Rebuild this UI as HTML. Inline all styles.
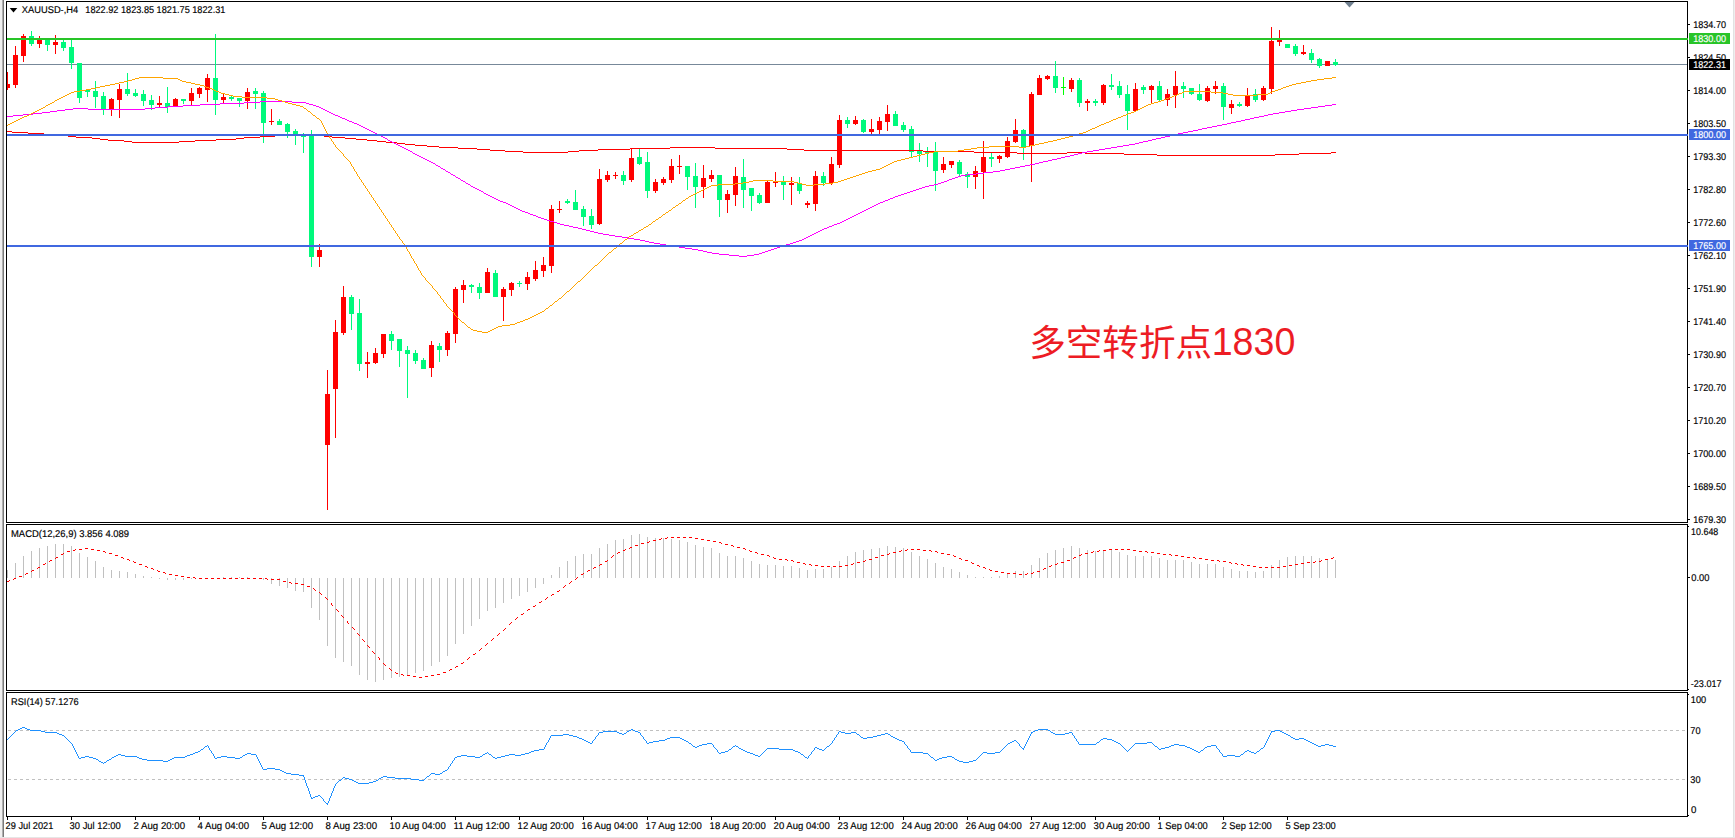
<!DOCTYPE html><html><head><meta charset="utf-8"><title>XAUUSD H4</title>
<style>html,body{margin:0;padding:0;background:#fff;overflow:hidden}svg{display:block}text{font-family:"Liberation Sans","Noto Sans CJK SC",sans-serif;fill:#000}.t{font-size:9.8px;text-rendering:geometricPrecision;stroke:#000;stroke-width:0.16px}.w{fill:#fff;stroke:#fff}.note{font-family:"Liberation Sans","Noto Sans CJK SC",sans-serif;font-size:35.5px;font-weight:400;fill:#ed1c24}</style></head><body>
<svg width="1735" height="838" viewBox="0 0 1735 838">
<rect width="1735" height="838" fill="#fff"/>
<g shape-rendering="crispEdges">
<rect x="0" y="0" width="2" height="838" fill="#f0f0f0"/>
<rect x="2" y="0" width="1" height="837" fill="#b0b0b0"/>
<rect x="3" y="0" width="1" height="837" fill="#7a7a7a"/>
<rect x="1733" y="0" width="1" height="838" fill="#e2e2e2"/>
<rect x="1734" y="0" width="1" height="838" fill="#eeeeee"/>
<rect x="0" y="837" width="1735" height="1" fill="#e6e6e6"/>
<rect x="6" y="1" width="1" height="522" fill="#000"/>
<rect x="1687" y="1" width="1" height="522" fill="#000"/>
<rect x="6" y="1" width="1682" height="1" fill="#000"/>
<rect x="6" y="522" width="1682" height="1" fill="#000"/>
<rect x="6" y="524" width="1" height="167" fill="#000"/>
<rect x="1687" y="524" width="1" height="167" fill="#000"/>
<rect x="6" y="524" width="1682" height="1" fill="#000"/>
<rect x="6" y="690" width="1682" height="1" fill="#000"/>
<rect x="6" y="692" width="1" height="125" fill="#000"/>
<rect x="1687" y="692" width="1" height="125" fill="#000"/>
<rect x="6" y="692" width="1682" height="1" fill="#000"/>
<rect x="6" y="816" width="1682" height="1" fill="#000"/>
</g>
<g shape-rendering="crispEdges">
<rect x="7" y="64" width="1680" height="1" fill="#778899"/>
<rect x="7" y="72" width="1" height="18" fill="#ff0000"/>
<rect x="7" y="84" width="3" height="4" fill="#ff0000"/>
<rect x="15" y="46" width="1" height="42" fill="#ff0000"/>
<rect x="13" y="55" width="5" height="30" fill="#ff0000"/>
<rect x="23" y="34" width="1" height="28" fill="#ff0000"/>
<rect x="21" y="36" width="5" height="20" fill="#ff0000"/>
<rect x="31" y="31" width="1" height="15" fill="#00f97c"/>
<rect x="29" y="36" width="5" height="8" fill="#00f97c"/>
<rect x="39" y="36" width="1" height="12" fill="#ff0000"/>
<rect x="37" y="40" width="5" height="4" fill="#ff0000"/>
<rect x="47" y="38" width="1" height="13" fill="#00f97c"/>
<rect x="45" y="40" width="5" height="5" fill="#00f97c"/>
<rect x="55" y="35" width="1" height="19" fill="#ff0000"/>
<rect x="53" y="42" width="5" height="3" fill="#ff0000"/>
<rect x="63" y="40" width="1" height="11" fill="#00f97c"/>
<rect x="61" y="42" width="5" height="6" fill="#00f97c"/>
<rect x="71" y="40" width="1" height="29" fill="#00f97c"/>
<rect x="69" y="47" width="5" height="16" fill="#00f97c"/>
<rect x="79" y="63" width="1" height="40" fill="#00f97c"/>
<rect x="77" y="63" width="5" height="35" fill="#00f97c"/>
<rect x="87" y="90" width="1" height="7" fill="#00f97c"/>
<rect x="85" y="90" width="5" height="2" fill="#00f97c"/>
<rect x="95" y="81" width="1" height="27" fill="#00f97c"/>
<rect x="93" y="91" width="5" height="6" fill="#00f97c"/>
<rect x="103" y="92" width="1" height="23" fill="#00f97c"/>
<rect x="101" y="96" width="5" height="13" fill="#00f97c"/>
<rect x="111" y="98" width="1" height="18" fill="#ff0000"/>
<rect x="109" y="99" width="5" height="10" fill="#ff0000"/>
<rect x="119" y="84" width="1" height="34" fill="#ff0000"/>
<rect x="117" y="89" width="5" height="11" fill="#ff0000"/>
<rect x="127" y="73" width="1" height="23" fill="#00f97c"/>
<rect x="125" y="89" width="5" height="5" fill="#00f97c"/>
<rect x="135" y="89" width="1" height="8" fill="#00f97c"/>
<rect x="133" y="93" width="5" height="3" fill="#00f97c"/>
<rect x="143" y="90" width="1" height="16" fill="#00f97c"/>
<rect x="141" y="94" width="5" height="7" fill="#00f97c"/>
<rect x="151" y="95" width="1" height="15" fill="#00f97c"/>
<rect x="149" y="100" width="5" height="5" fill="#00f97c"/>
<rect x="159" y="96" width="1" height="12" fill="#ff0000"/>
<rect x="157" y="103" width="5" height="2" fill="#ff0000"/>
<rect x="167" y="87" width="1" height="26" fill="#00f97c"/>
<rect x="165" y="103" width="5" height="4" fill="#00f97c"/>
<rect x="175" y="98" width="1" height="9" fill="#ff0000"/>
<rect x="173" y="99" width="5" height="7" fill="#ff0000"/>
<rect x="183" y="99" width="1" height="5" fill="#00f97c"/>
<rect x="181" y="99" width="5" height="2" fill="#00f97c"/>
<rect x="191" y="88" width="1" height="18" fill="#ff0000"/>
<rect x="189" y="93" width="5" height="8" fill="#ff0000"/>
<rect x="199" y="87" width="1" height="11" fill="#ff0000"/>
<rect x="197" y="88" width="5" height="6" fill="#ff0000"/>
<rect x="207" y="74" width="1" height="28" fill="#ff0000"/>
<rect x="205" y="78" width="5" height="12" fill="#ff0000"/>
<rect x="215" y="34" width="1" height="81" fill="#00f97c"/>
<rect x="213" y="78" width="5" height="22" fill="#00f97c"/>
<rect x="223" y="94" width="1" height="9" fill="#ff0000"/>
<rect x="221" y="97" width="5" height="3" fill="#ff0000"/>
<rect x="231" y="96" width="1" height="5" fill="#00f97c"/>
<rect x="229" y="97" width="5" height="2" fill="#00f97c"/>
<rect x="239" y="98" width="1" height="9" fill="#00f97c"/>
<rect x="237" y="98" width="5" height="3" fill="#00f97c"/>
<rect x="247" y="88" width="1" height="21" fill="#ff0000"/>
<rect x="245" y="92" width="5" height="9" fill="#ff0000"/>
<rect x="255" y="88" width="1" height="21" fill="#00f97c"/>
<rect x="253" y="91" width="5" height="3" fill="#00f97c"/>
<rect x="263" y="91" width="1" height="52" fill="#00f97c"/>
<rect x="261" y="93" width="5" height="30" fill="#00f97c"/>
<rect x="271" y="109" width="1" height="16" fill="#ff0000"/>
<rect x="269" y="121" width="5" height="1" fill="#ff0000"/>
<rect x="279" y="119" width="1" height="6" fill="#00f97c"/>
<rect x="277" y="121" width="5" height="4" fill="#00f97c"/>
<rect x="287" y="123" width="1" height="15" fill="#00f97c"/>
<rect x="285" y="124" width="5" height="8" fill="#00f97c"/>
<rect x="295" y="129" width="1" height="16" fill="#00f97c"/>
<rect x="293" y="131" width="5" height="4" fill="#00f97c"/>
<rect x="303" y="133" width="1" height="20" fill="#00f97c"/>
<rect x="301" y="135" width="5" height="2" fill="#00f97c"/>
<rect x="311" y="130" width="1" height="137" fill="#00f97c"/>
<rect x="309" y="135" width="5" height="122" fill="#00f97c"/>
<rect x="319" y="244" width="1" height="23" fill="#ff0000"/>
<rect x="317" y="250" width="5" height="7" fill="#ff0000"/>
<rect x="327" y="370" width="1" height="140" fill="#ff0000"/>
<rect x="325" y="394" width="5" height="51" fill="#ff0000"/>
<rect x="335" y="320" width="1" height="118" fill="#ff0000"/>
<rect x="333" y="332" width="5" height="57" fill="#ff0000"/>
<rect x="343" y="286" width="1" height="49" fill="#ff0000"/>
<rect x="341" y="297" width="5" height="36" fill="#ff0000"/>
<rect x="351" y="295" width="1" height="35" fill="#00f97c"/>
<rect x="349" y="297" width="5" height="17" fill="#00f97c"/>
<rect x="359" y="299" width="1" height="72" fill="#00f97c"/>
<rect x="357" y="313" width="5" height="51" fill="#00f97c"/>
<rect x="367" y="352" width="1" height="26" fill="#ff0000"/>
<rect x="365" y="362" width="5" height="2" fill="#ff0000"/>
<rect x="375" y="348" width="1" height="16" fill="#ff0000"/>
<rect x="373" y="353" width="5" height="10" fill="#ff0000"/>
<rect x="383" y="334" width="1" height="24" fill="#ff0000"/>
<rect x="381" y="334" width="5" height="20" fill="#ff0000"/>
<rect x="391" y="331" width="1" height="19" fill="#00f97c"/>
<rect x="389" y="334" width="5" height="7" fill="#00f97c"/>
<rect x="399" y="339" width="1" height="28" fill="#00f97c"/>
<rect x="397" y="339" width="5" height="12" fill="#00f97c"/>
<rect x="407" y="346" width="1" height="52" fill="#00f97c"/>
<rect x="405" y="350" width="5" height="4" fill="#00f97c"/>
<rect x="415" y="350" width="1" height="14" fill="#00f97c"/>
<rect x="413" y="353" width="5" height="8" fill="#00f97c"/>
<rect x="423" y="358" width="1" height="11" fill="#00f97c"/>
<rect x="421" y="360" width="5" height="9" fill="#00f97c"/>
<rect x="431" y="341" width="1" height="36" fill="#ff0000"/>
<rect x="429" y="345" width="5" height="23" fill="#ff0000"/>
<rect x="439" y="343" width="1" height="19" fill="#00f97c"/>
<rect x="437" y="346" width="5" height="4" fill="#00f97c"/>
<rect x="447" y="331" width="1" height="25" fill="#ff0000"/>
<rect x="445" y="333" width="5" height="17" fill="#ff0000"/>
<rect x="455" y="287" width="1" height="56" fill="#ff0000"/>
<rect x="453" y="289" width="5" height="45" fill="#ff0000"/>
<rect x="463" y="280" width="1" height="23" fill="#ff0000"/>
<rect x="461" y="285" width="5" height="5" fill="#ff0000"/>
<rect x="471" y="284" width="1" height="9" fill="#00f97c"/>
<rect x="469" y="285" width="5" height="2" fill="#00f97c"/>
<rect x="479" y="283" width="1" height="16" fill="#00f97c"/>
<rect x="477" y="287" width="5" height="6" fill="#00f97c"/>
<rect x="487" y="268" width="1" height="25" fill="#ff0000"/>
<rect x="485" y="272" width="5" height="21" fill="#ff0000"/>
<rect x="495" y="270" width="1" height="27" fill="#00f97c"/>
<rect x="493" y="273" width="5" height="24" fill="#00f97c"/>
<rect x="503" y="287" width="1" height="34" fill="#ff0000"/>
<rect x="501" y="289" width="5" height="8" fill="#ff0000"/>
<rect x="511" y="282" width="1" height="14" fill="#ff0000"/>
<rect x="509" y="283" width="5" height="7" fill="#ff0000"/>
<rect x="519" y="281" width="1" height="6" fill="#00f97c"/>
<rect x="517" y="283" width="5" height="1" fill="#00f97c"/>
<rect x="527" y="272" width="1" height="18" fill="#ff0000"/>
<rect x="525" y="277" width="5" height="7" fill="#ff0000"/>
<rect x="535" y="261" width="1" height="20" fill="#ff0000"/>
<rect x="533" y="270" width="5" height="9" fill="#ff0000"/>
<rect x="543" y="257" width="1" height="20" fill="#ff0000"/>
<rect x="541" y="265" width="5" height="6" fill="#ff0000"/>
<rect x="551" y="205" width="1" height="68" fill="#ff0000"/>
<rect x="549" y="209" width="5" height="57" fill="#ff0000"/>
<rect x="559" y="201" width="1" height="12" fill="#ff0000"/>
<rect x="557" y="209" width="5" height="1" fill="#ff0000"/>
<rect x="567" y="199" width="1" height="5" fill="#00f97c"/>
<rect x="565" y="201" width="5" height="2" fill="#00f97c"/>
<rect x="575" y="190" width="1" height="20" fill="#00f97c"/>
<rect x="573" y="202" width="5" height="8" fill="#00f97c"/>
<rect x="583" y="206" width="1" height="20" fill="#00f97c"/>
<rect x="581" y="209" width="5" height="8" fill="#00f97c"/>
<rect x="591" y="209" width="1" height="20" fill="#00f97c"/>
<rect x="589" y="216" width="5" height="9" fill="#00f97c"/>
<rect x="599" y="169" width="1" height="56" fill="#ff0000"/>
<rect x="597" y="179" width="5" height="45" fill="#ff0000"/>
<rect x="607" y="171" width="1" height="11" fill="#ff0000"/>
<rect x="605" y="175" width="5" height="5" fill="#ff0000"/>
<rect x="615" y="172" width="1" height="7" fill="#ff0000"/>
<rect x="613" y="175" width="5" height="1" fill="#ff0000"/>
<rect x="623" y="171" width="1" height="14" fill="#00f97c"/>
<rect x="621" y="175" width="5" height="6" fill="#00f97c"/>
<rect x="631" y="149" width="1" height="33" fill="#ff0000"/>
<rect x="629" y="158" width="5" height="22" fill="#ff0000"/>
<rect x="639" y="149" width="1" height="16" fill="#00f97c"/>
<rect x="637" y="157" width="5" height="7" fill="#00f97c"/>
<rect x="647" y="152" width="1" height="46" fill="#00f97c"/>
<rect x="645" y="162" width="5" height="29" fill="#00f97c"/>
<rect x="655" y="179" width="1" height="14" fill="#ff0000"/>
<rect x="653" y="182" width="5" height="9" fill="#ff0000"/>
<rect x="663" y="177" width="1" height="8" fill="#ff0000"/>
<rect x="661" y="179" width="5" height="4" fill="#ff0000"/>
<rect x="671" y="159" width="1" height="24" fill="#ff0000"/>
<rect x="669" y="166" width="5" height="14" fill="#ff0000"/>
<rect x="679" y="155" width="1" height="19" fill="#ff0000"/>
<rect x="677" y="166" width="5" height="1" fill="#ff0000"/>
<rect x="687" y="166" width="1" height="24" fill="#00f97c"/>
<rect x="685" y="166" width="5" height="11" fill="#00f97c"/>
<rect x="695" y="163" width="1" height="45" fill="#00f97c"/>
<rect x="693" y="176" width="5" height="11" fill="#00f97c"/>
<rect x="703" y="165" width="1" height="33" fill="#ff0000"/>
<rect x="701" y="178" width="5" height="9" fill="#ff0000"/>
<rect x="711" y="170" width="1" height="12" fill="#ff0000"/>
<rect x="709" y="175" width="5" height="4" fill="#ff0000"/>
<rect x="719" y="175" width="1" height="42" fill="#00f97c"/>
<rect x="717" y="175" width="5" height="25" fill="#00f97c"/>
<rect x="727" y="190" width="1" height="23" fill="#ff0000"/>
<rect x="725" y="194" width="5" height="6" fill="#ff0000"/>
<rect x="735" y="167" width="1" height="39" fill="#ff0000"/>
<rect x="733" y="176" width="5" height="19" fill="#ff0000"/>
<rect x="743" y="159" width="1" height="49" fill="#00f97c"/>
<rect x="741" y="177" width="5" height="13" fill="#00f97c"/>
<rect x="751" y="188" width="1" height="23" fill="#00f97c"/>
<rect x="749" y="188" width="5" height="8" fill="#00f97c"/>
<rect x="759" y="193" width="1" height="11" fill="#00f97c"/>
<rect x="757" y="195" width="5" height="8" fill="#00f97c"/>
<rect x="767" y="181" width="1" height="22" fill="#ff0000"/>
<rect x="765" y="182" width="5" height="21" fill="#ff0000"/>
<rect x="775" y="172" width="1" height="15" fill="#ff0000"/>
<rect x="773" y="182" width="5" height="1" fill="#ff0000"/>
<rect x="783" y="176" width="1" height="24" fill="#00f97c"/>
<rect x="781" y="182" width="5" height="3" fill="#00f97c"/>
<rect x="791" y="177" width="1" height="28" fill="#ff0000"/>
<rect x="789" y="183" width="5" height="2" fill="#ff0000"/>
<rect x="799" y="177" width="1" height="17" fill="#00f97c"/>
<rect x="797" y="183" width="5" height="8" fill="#00f97c"/>
<rect x="807" y="201" width="1" height="7" fill="#ff0000"/>
<rect x="805" y="203" width="5" height="2" fill="#ff0000"/>
<rect x="815" y="171" width="1" height="40" fill="#ff0000"/>
<rect x="813" y="176" width="5" height="28" fill="#ff0000"/>
<rect x="823" y="172" width="1" height="14" fill="#00f97c"/>
<rect x="821" y="176" width="5" height="7" fill="#00f97c"/>
<rect x="831" y="157" width="1" height="28" fill="#ff0000"/>
<rect x="829" y="164" width="5" height="19" fill="#ff0000"/>
<rect x="839" y="115" width="1" height="53" fill="#ff0000"/>
<rect x="837" y="120" width="5" height="45" fill="#ff0000"/>
<rect x="847" y="117" width="1" height="11" fill="#00f97c"/>
<rect x="845" y="120" width="5" height="4" fill="#00f97c"/>
<rect x="855" y="116" width="1" height="9" fill="#ff0000"/>
<rect x="853" y="120" width="5" height="4" fill="#ff0000"/>
<rect x="863" y="119" width="1" height="14" fill="#00f97c"/>
<rect x="861" y="120" width="5" height="12" fill="#00f97c"/>
<rect x="871" y="119" width="1" height="15" fill="#ff0000"/>
<rect x="869" y="129" width="5" height="3" fill="#ff0000"/>
<rect x="879" y="117" width="1" height="17" fill="#ff0000"/>
<rect x="877" y="121" width="5" height="9" fill="#ff0000"/>
<rect x="887" y="105" width="1" height="26" fill="#ff0000"/>
<rect x="885" y="114" width="5" height="8" fill="#ff0000"/>
<rect x="895" y="111" width="1" height="15" fill="#00f97c"/>
<rect x="893" y="114" width="5" height="12" fill="#00f97c"/>
<rect x="903" y="122" width="1" height="10" fill="#00f97c"/>
<rect x="901" y="125" width="5" height="5" fill="#00f97c"/>
<rect x="911" y="126" width="1" height="31" fill="#00f97c"/>
<rect x="909" y="129" width="5" height="23" fill="#00f97c"/>
<rect x="919" y="143" width="1" height="19" fill="#00f97c"/>
<rect x="917" y="151" width="5" height="3" fill="#00f97c"/>
<rect x="927" y="147" width="1" height="20" fill="#00f97c"/>
<rect x="925" y="151" width="5" height="2" fill="#00f97c"/>
<rect x="935" y="142" width="1" height="49" fill="#00f97c"/>
<rect x="933" y="152" width="5" height="19" fill="#00f97c"/>
<rect x="943" y="157" width="1" height="16" fill="#ff0000"/>
<rect x="941" y="164" width="5" height="6" fill="#ff0000"/>
<rect x="951" y="161" width="1" height="7" fill="#ff0000"/>
<rect x="949" y="161" width="5" height="4" fill="#ff0000"/>
<rect x="959" y="160" width="1" height="16" fill="#00f97c"/>
<rect x="957" y="162" width="5" height="12" fill="#00f97c"/>
<rect x="967" y="172" width="1" height="16" fill="#00f97c"/>
<rect x="965" y="174" width="5" height="3" fill="#00f97c"/>
<rect x="975" y="166" width="1" height="23" fill="#ff0000"/>
<rect x="973" y="171" width="5" height="6" fill="#ff0000"/>
<rect x="983" y="141" width="1" height="58" fill="#ff0000"/>
<rect x="981" y="157" width="5" height="15" fill="#ff0000"/>
<rect x="991" y="153" width="1" height="14" fill="#00f97c"/>
<rect x="989" y="157" width="5" height="2" fill="#00f97c"/>
<rect x="999" y="155" width="1" height="8" fill="#ff0000"/>
<rect x="997" y="156" width="5" height="3" fill="#ff0000"/>
<rect x="1007" y="137" width="1" height="21" fill="#ff0000"/>
<rect x="1005" y="141" width="5" height="16" fill="#ff0000"/>
<rect x="1015" y="119" width="1" height="24" fill="#ff0000"/>
<rect x="1013" y="130" width="5" height="12" fill="#ff0000"/>
<rect x="1023" y="129" width="1" height="31" fill="#00f97c"/>
<rect x="1021" y="130" width="5" height="17" fill="#00f97c"/>
<rect x="1031" y="92" width="1" height="90" fill="#ff0000"/>
<rect x="1029" y="94" width="5" height="52" fill="#ff0000"/>
<rect x="1039" y="75" width="1" height="20" fill="#ff0000"/>
<rect x="1037" y="78" width="5" height="17" fill="#ff0000"/>
<rect x="1047" y="75" width="1" height="5" fill="#ff0000"/>
<rect x="1045" y="76" width="5" height="3" fill="#ff0000"/>
<rect x="1055" y="61" width="1" height="32" fill="#00f97c"/>
<rect x="1053" y="76" width="5" height="12" fill="#00f97c"/>
<rect x="1063" y="77" width="1" height="18" fill="#00ff00"/>
<rect x="1061" y="87" width="5" height="1" fill="#00ff00"/>
<rect x="1071" y="78" width="1" height="14" fill="#ff0000"/>
<rect x="1069" y="80" width="5" height="9" fill="#ff0000"/>
<rect x="1079" y="78" width="1" height="29" fill="#00f97c"/>
<rect x="1077" y="80" width="5" height="23" fill="#00f97c"/>
<rect x="1087" y="99" width="1" height="12" fill="#ff0000"/>
<rect x="1085" y="101" width="5" height="2" fill="#ff0000"/>
<rect x="1095" y="99" width="1" height="7" fill="#00f97c"/>
<rect x="1093" y="101" width="5" height="2" fill="#00f97c"/>
<rect x="1103" y="84" width="1" height="21" fill="#ff0000"/>
<rect x="1101" y="85" width="5" height="18" fill="#ff0000"/>
<rect x="1111" y="74" width="1" height="16" fill="#00f97c"/>
<rect x="1109" y="85" width="5" height="2" fill="#00f97c"/>
<rect x="1119" y="81" width="1" height="17" fill="#00f97c"/>
<rect x="1117" y="86" width="5" height="9" fill="#00f97c"/>
<rect x="1127" y="85" width="1" height="45" fill="#00f97c"/>
<rect x="1125" y="94" width="5" height="17" fill="#00f97c"/>
<rect x="1135" y="83" width="1" height="28" fill="#ff0000"/>
<rect x="1133" y="89" width="5" height="22" fill="#ff0000"/>
<rect x="1143" y="85" width="1" height="9" fill="#00f97c"/>
<rect x="1141" y="87" width="5" height="3" fill="#00f97c"/>
<rect x="1151" y="85" width="1" height="18" fill="#ff0000"/>
<rect x="1149" y="86" width="5" height="4" fill="#ff0000"/>
<rect x="1159" y="81" width="1" height="20" fill="#00f97c"/>
<rect x="1157" y="86" width="5" height="14" fill="#00f97c"/>
<rect x="1167" y="89" width="1" height="17" fill="#ff0000"/>
<rect x="1165" y="94" width="5" height="6" fill="#ff0000"/>
<rect x="1175" y="71" width="1" height="37" fill="#ff0000"/>
<rect x="1173" y="86" width="5" height="9" fill="#ff0000"/>
<rect x="1183" y="82" width="1" height="16" fill="#00f97c"/>
<rect x="1181" y="86" width="5" height="3" fill="#00f97c"/>
<rect x="1191" y="88" width="1" height="7" fill="#00f97c"/>
<rect x="1189" y="88" width="5" height="6" fill="#00f97c"/>
<rect x="1199" y="84" width="1" height="17" fill="#00f97c"/>
<rect x="1197" y="94" width="5" height="6" fill="#00f97c"/>
<rect x="1207" y="86" width="1" height="16" fill="#ff0000"/>
<rect x="1205" y="88" width="5" height="13" fill="#ff0000"/>
<rect x="1215" y="81" width="1" height="13" fill="#ff0000"/>
<rect x="1213" y="86" width="5" height="3" fill="#ff0000"/>
<rect x="1223" y="83" width="1" height="37" fill="#00f97c"/>
<rect x="1221" y="86" width="5" height="21" fill="#00f97c"/>
<rect x="1231" y="100" width="1" height="14" fill="#ff0000"/>
<rect x="1229" y="104" width="5" height="4" fill="#ff0000"/>
<rect x="1239" y="102" width="1" height="5" fill="#00f97c"/>
<rect x="1237" y="104" width="5" height="2" fill="#00f97c"/>
<rect x="1247" y="88" width="1" height="19" fill="#ff0000"/>
<rect x="1245" y="96" width="5" height="10" fill="#ff0000"/>
<rect x="1255" y="89" width="1" height="13" fill="#00f97c"/>
<rect x="1253" y="94" width="5" height="6" fill="#00f97c"/>
<rect x="1263" y="86" width="1" height="15" fill="#ff0000"/>
<rect x="1261" y="88" width="5" height="12" fill="#ff0000"/>
<rect x="1271" y="27" width="1" height="67" fill="#ff0000"/>
<rect x="1269" y="41" width="5" height="48" fill="#ff0000"/>
<rect x="1279" y="30" width="1" height="16" fill="#ff0000"/>
<rect x="1277" y="40" width="5" height="2" fill="#ff0000"/>
<rect x="1287" y="44" width="1" height="4" fill="#00f97c"/>
<rect x="1285" y="44" width="5" height="4" fill="#00f97c"/>
<rect x="1295" y="44" width="1" height="12" fill="#00f97c"/>
<rect x="1293" y="46" width="5" height="8" fill="#00f97c"/>
<rect x="1303" y="45" width="1" height="10" fill="#ff0000"/>
<rect x="1301" y="52" width="5" height="2" fill="#ff0000"/>
<rect x="1311" y="49" width="1" height="14" fill="#00f97c"/>
<rect x="1309" y="53" width="5" height="7" fill="#00f97c"/>
<rect x="1319" y="58" width="1" height="10" fill="#00f97c"/>
<rect x="1317" y="59" width="5" height="7" fill="#00f97c"/>
<rect x="1327" y="61" width="1" height="5" fill="#ff0000"/>
<rect x="1325" y="61" width="5" height="5" fill="#ff0000"/>
<rect x="1335" y="59" width="1" height="7" fill="#00f97c"/>
<rect x="1333" y="62" width="5" height="3" fill="#00f97c"/>
</g>
<g shape-rendering="crispEdges" fill="#c0c0c0">
<rect x="7" y="570" width="1" height="8"/>
<rect x="15" y="563" width="1" height="15"/>
<rect x="23" y="556" width="1" height="22"/>
<rect x="31" y="551" width="1" height="27"/>
<rect x="39" y="548" width="1" height="30"/>
<rect x="47" y="546" width="1" height="32"/>
<rect x="55" y="544" width="1" height="34"/>
<rect x="63" y="544" width="1" height="34"/>
<rect x="71" y="546" width="1" height="32"/>
<rect x="79" y="553" width="1" height="25"/>
<rect x="87" y="557" width="1" height="21"/>
<rect x="95" y="561" width="1" height="17"/>
<rect x="103" y="567" width="1" height="11"/>
<rect x="111" y="570" width="1" height="8"/>
<rect x="119" y="571" width="1" height="7"/>
<rect x="127" y="572" width="1" height="6"/>
<rect x="135" y="574" width="1" height="4"/>
<rect x="143" y="576" width="1" height="2"/>
<rect x="151" y="577" width="1" height="1"/>
<rect x="159" y="578" width="1" height="1"/>
<rect x="167" y="578" width="1" height="2"/>
<rect x="175" y="578" width="1" height="2"/>
<rect x="183" y="578" width="1" height="2"/>
<rect x="191" y="578" width="1" height="1"/>
<rect x="223" y="577" width="1" height="1"/>
<rect x="231" y="577" width="1" height="1"/>
<rect x="239" y="577" width="1" height="1"/>
<rect x="247" y="577" width="1" height="1"/>
<rect x="263" y="578" width="1" height="2"/>
<rect x="271" y="578" width="1" height="6"/>
<rect x="279" y="578" width="1" height="8"/>
<rect x="287" y="578" width="1" height="10"/>
<rect x="295" y="578" width="1" height="13"/>
<rect x="303" y="578" width="1" height="14"/>
<rect x="311" y="578" width="1" height="30"/>
<rect x="319" y="578" width="1" height="42"/>
<rect x="327" y="578" width="1" height="68"/>
<rect x="335" y="578" width="1" height="80"/>
<rect x="343" y="578" width="1" height="84"/>
<rect x="351" y="578" width="1" height="88"/>
<rect x="359" y="578" width="1" height="97"/>
<rect x="367" y="578" width="1" height="102"/>
<rect x="375" y="578" width="1" height="104"/>
<rect x="383" y="578" width="1" height="102"/>
<rect x="391" y="578" width="1" height="100"/>
<rect x="399" y="578" width="1" height="99"/>
<rect x="407" y="578" width="1" height="97"/>
<rect x="415" y="578" width="1" height="95"/>
<rect x="423" y="578" width="1" height="93"/>
<rect x="431" y="578" width="1" height="88"/>
<rect x="439" y="578" width="1" height="84"/>
<rect x="447" y="578" width="1" height="78"/>
<rect x="455" y="578" width="1" height="66"/>
<rect x="463" y="578" width="1" height="56"/>
<rect x="471" y="578" width="1" height="48"/>
<rect x="479" y="578" width="1" height="41"/>
<rect x="487" y="578" width="1" height="33"/>
<rect x="495" y="578" width="1" height="30"/>
<rect x="503" y="578" width="1" height="25"/>
<rect x="511" y="578" width="1" height="21"/>
<rect x="519" y="578" width="1" height="18"/>
<rect x="527" y="578" width="1" height="14"/>
<rect x="535" y="578" width="1" height="10"/>
<rect x="543" y="578" width="1" height="6"/>
<rect x="551" y="575" width="1" height="3"/>
<rect x="559" y="567" width="1" height="11"/>
<rect x="567" y="561" width="1" height="17"/>
<rect x="575" y="556" width="1" height="22"/>
<rect x="583" y="554" width="1" height="24"/>
<rect x="591" y="554" width="1" height="24"/>
<rect x="599" y="548" width="1" height="30"/>
<rect x="607" y="544" width="1" height="34"/>
<rect x="615" y="540" width="1" height="38"/>
<rect x="623" y="539" width="1" height="39"/>
<rect x="631" y="535" width="1" height="43"/>
<rect x="639" y="534" width="1" height="44"/>
<rect x="647" y="537" width="1" height="41"/>
<rect x="655" y="538" width="1" height="40"/>
<rect x="663" y="538" width="1" height="40"/>
<rect x="671" y="539" width="1" height="39"/>
<rect x="679" y="540" width="1" height="38"/>
<rect x="687" y="542" width="1" height="36"/>
<rect x="695" y="545" width="1" height="33"/>
<rect x="703" y="547" width="1" height="31"/>
<rect x="711" y="548" width="1" height="30"/>
<rect x="719" y="553" width="1" height="25"/>
<rect x="727" y="556" width="1" height="22"/>
<rect x="735" y="556" width="1" height="22"/>
<rect x="743" y="558" width="1" height="20"/>
<rect x="751" y="561" width="1" height="17"/>
<rect x="759" y="564" width="1" height="14"/>
<rect x="767" y="565" width="1" height="13"/>
<rect x="775" y="565" width="1" height="13"/>
<rect x="783" y="566" width="1" height="12"/>
<rect x="791" y="566" width="1" height="12"/>
<rect x="799" y="568" width="1" height="10"/>
<rect x="807" y="570" width="1" height="8"/>
<rect x="815" y="569" width="1" height="9"/>
<rect x="823" y="569" width="1" height="9"/>
<rect x="831" y="567" width="1" height="11"/>
<rect x="839" y="561" width="1" height="17"/>
<rect x="847" y="556" width="1" height="22"/>
<rect x="855" y="552" width="1" height="26"/>
<rect x="863" y="550" width="1" height="28"/>
<rect x="871" y="549" width="1" height="29"/>
<rect x="879" y="548" width="1" height="30"/>
<rect x="887" y="546" width="1" height="32"/>
<rect x="895" y="547" width="1" height="31"/>
<rect x="903" y="548" width="1" height="30"/>
<rect x="911" y="552" width="1" height="26"/>
<rect x="919" y="556" width="1" height="22"/>
<rect x="927" y="559" width="1" height="19"/>
<rect x="935" y="563" width="1" height="15"/>
<rect x="943" y="567" width="1" height="11"/>
<rect x="951" y="569" width="1" height="9"/>
<rect x="959" y="572" width="1" height="6"/>
<rect x="967" y="575" width="1" height="3"/>
<rect x="975" y="577" width="1" height="1"/>
<rect x="983" y="577" width="1" height="1"/>
<rect x="991" y="577" width="1" height="1"/>
<rect x="999" y="576" width="1" height="2"/>
<rect x="1007" y="574" width="1" height="4"/>
<rect x="1015" y="571" width="1" height="7"/>
<rect x="1023" y="571" width="1" height="7"/>
<rect x="1031" y="565" width="1" height="13"/>
<rect x="1039" y="558" width="1" height="20"/>
<rect x="1047" y="553" width="1" height="25"/>
<rect x="1055" y="550" width="1" height="28"/>
<rect x="1063" y="548" width="1" height="30"/>
<rect x="1071" y="546" width="1" height="32"/>
<rect x="1079" y="548" width="1" height="30"/>
<rect x="1087" y="550" width="1" height="28"/>
<rect x="1095" y="551" width="1" height="27"/>
<rect x="1103" y="550" width="1" height="28"/>
<rect x="1111" y="550" width="1" height="28"/>
<rect x="1119" y="552" width="1" height="26"/>
<rect x="1127" y="555" width="1" height="23"/>
<rect x="1135" y="556" width="1" height="22"/>
<rect x="1143" y="556" width="1" height="22"/>
<rect x="1151" y="556" width="1" height="22"/>
<rect x="1159" y="558" width="1" height="20"/>
<rect x="1167" y="560" width="1" height="18"/>
<rect x="1175" y="560" width="1" height="18"/>
<rect x="1183" y="560" width="1" height="18"/>
<rect x="1191" y="562" width="1" height="16"/>
<rect x="1199" y="564" width="1" height="14"/>
<rect x="1207" y="564" width="1" height="14"/>
<rect x="1215" y="564" width="1" height="14"/>
<rect x="1223" y="567" width="1" height="11"/>
<rect x="1231" y="569" width="1" height="9"/>
<rect x="1239" y="571" width="1" height="7"/>
<rect x="1247" y="571" width="1" height="7"/>
<rect x="1255" y="572" width="1" height="6"/>
<rect x="1263" y="571" width="1" height="7"/>
<rect x="1271" y="565" width="1" height="13"/>
<rect x="1279" y="560" width="1" height="18"/>
<rect x="1287" y="557" width="1" height="21"/>
<rect x="1295" y="556" width="1" height="22"/>
<rect x="1303" y="556" width="1" height="22"/>
<rect x="1311" y="556" width="1" height="22"/>
<rect x="1319" y="558" width="1" height="20"/>
<rect x="1327" y="559" width="1" height="19"/>
<rect x="1335" y="560" width="1" height="18"/>
</g>
<path d="M7 131.5h5M12 132.5h16M28 133.5h16M44 134.5h12M56 135.5h12M68 136.5h8M76 137.5h16M92 138.5h8M100 139.5h8M108 140.5h16M124 141.5h8M132 142.5h47M179 141.5h16M195 140.5h21M216 139.5h20M236 138.5h8M244 137.5h16M260 136.5h15M275 135.5h49M324 136.5h8M332 137.5h13M345 138.5h11M356 139.5h11M367 140.5h10M377 141.5h9M386 142.5h11M397 143.5h8M405 144.5h10M415 145.5h12M427 146.5h12M439 147.5h19M458 148.5h19M477 149.5h13M490 150.5h15M505 151.5h18M523 152.5h45M568 151.5h11M579 150.5h19M598 149.5h32M630 148.5h40M670 147.5h45M715 148.5h72M787 149.5h17M804 150.5h119M923 151.5h51M974 152.5h43M1017 153.5h50M1067 152.5h18M1085 153.5h39M1124 154.5h33M1157 155.5h118M1275 154.5h24M1299 153.5h32M1331 152.5h5" fill="none" stroke="#ff0000" stroke-width="1" shape-rendering="crispEdges"/>
<path d="M7 116.5h6M13 115.5h10M23 114.5h10M33 113.5h9M42 112.5h8M50 111.5h7M57 110.5h8M65 109.5h8M73 108.5h15M88 109.5h57M145 108.5h10M155 107.5h13M168 106.5h15M183 105.5h17M200 104.5h20M220 103.5h24M244 102.5h16M260 101.5h32M292 102.5h14M306 103.5h3M309 104.5h4M313 105.5h3M316 106.5h3M319 107.5h2M321 108.5h2M323 109.5h2M325 110.5h2M327 111.5h2M329 112.5h2M331 113.5h2M333 114.5h2M335 115.5h3M338 116.5h2M340 117.5h2M342 118.5h3M345 119.5h2M347 120.5h2M349 121.5h3M352 122.5h2M354 123.5h3M357 124.5h2M359 125.5h2M361 126.5h2M363 127.5h2M365 128.5h2M367 129.5h2M369 130.5h2M371 131.5h2M373 132.5h2M375 133.5h2M377 134.5h2M379 135.5h2M381 136.5h2M383 137.5h2M385 138.5h2M387 139.5h1M388 140.5h2M390 141.5h2M392 142.5h2M394 143.5h2M396 144.5h2M398 145.5h2M400 146.5h2M402 147.5h2M404 148.5h2M406 149.5h2M408 150.5h2M410 151.5h2M412 152.5h1M413 153.5h2M415 154.5h2M417 155.5h2M419 156.5h2M421 157.5h2M423 158.5h2M425 159.5h2M427 160.5h2M429 161.5h2M431 162.5h2M433 163.5h2M435 164.5h1M436 165.5h2M438 166.5h2M440 167.5h1M441 168.5h2M443 169.5h2M445 170.5h1M446 171.5h2M448 172.5h2M450 173.5h1M451 174.5h2M453 175.5h2M455 176.5h1M456 177.5h2M458 178.5h2M460 179.5h1M461 180.5h2M463 181.5h2M465 182.5h1M466 183.5h2M468 184.5h2M470 185.5h1M471 186.5h2M473 187.5h2M475 188.5h2M477 189.5h2M479 190.5h2M481 191.5h2M483 192.5h1M484 193.5h2M486 194.5h2M488 195.5h2M490 196.5h2M492 197.5h2M494 198.5h2M496 199.5h2M498 200.5h2M500 201.5h3M503 202.5h3M506 203.5h2M508 204.5h2M510 205.5h2M512 206.5h2M514 207.5h2M516 208.5h2M518 209.5h2M520 210.5h2M522 211.5h3M525 212.5h3M528 213.5h2M530 214.5h3M533 215.5h3M536 216.5h2M538 217.5h3M541 218.5h3M544 219.5h3M547 220.5h3M550 221.5h4M554 222.5h3M557 223.5h3M560 224.5h4M564 225.5h5M569 226.5h4M573 227.5h5M578 228.5h4M582 229.5h4M586 230.5h4M590 231.5h4M594 232.5h4M598 233.5h5M603 234.5h6M609 235.5h6M615 236.5h7M622 237.5h6M628 238.5h6M634 239.5h6M640 240.5h5M645 241.5h4M649 242.5h5M654 243.5h6M660 244.5h6M666 245.5h6M672 246.5h7M679 247.5h6M685 248.5h7M692 249.5h6M698 250.5h5M703 251.5h4M707 252.5h5M712 253.5h7M719 254.5h10M729 255.5h10M739 256.5h8M747 255.5h7M754 254.5h5M759 253.5h3M762 252.5h3M765 251.5h3M768 250.5h3M771 249.5h3M774 248.5h3M777 247.5h3M780 246.5h3M783 245.5h3M786 244.5h4M790 243.5h3M793 242.5h3M796 241.5h3M799 240.5h3M802 239.5h2M804 238.5h2M806 237.5h2M808 236.5h2M810 235.5h2M812 234.5h2M814 233.5h2M816 232.5h2M818 231.5h2M820 230.5h2M822 229.5h2M824 228.5h3M827 227.5h2M829 226.5h3M832 225.5h2M834 224.5h3M837 223.5h3M840 222.5h2M842 221.5h2M844 220.5h2M846 219.5h2M848 218.5h2M850 217.5h2M852 216.5h2M854 215.5h2M856 214.5h2M858 213.5h2M860 212.5h2M862 211.5h2M864 210.5h2M866 209.5h2M868 208.5h2M870 207.5h2M872 206.5h2M874 205.5h2M876 204.5h2M878 203.5h2M880 202.5h3M883 201.5h2M885 200.5h3M888 199.5h2M890 198.5h3M893 197.5h2M895 196.5h3M898 195.5h3M901 194.5h3M904 193.5h3M907 192.5h3M910 191.5h3M913 190.5h3M916 189.5h3M919 188.5h3M922 187.5h3M925 186.5h4M929 185.5h5M934 184.5h4M938 183.5h3M941 182.5h3M944 181.5h3M947 180.5h2M949 179.5h3M952 178.5h3M955 177.5h3M958 176.5h3M961 175.5h6M967 174.5h9M976 173.5h8M984 172.5h9M993 171.5h7M1000 170.5h5M1005 169.5h5M1010 168.5h5M1015 167.5h5M1020 166.5h5M1025 165.5h5M1030 164.5h5M1035 163.5h4M1039 162.5h4M1043 161.5h5M1048 160.5h4M1052 159.5h5M1057 158.5h4M1061 157.5h4M1065 156.5h5M1070 155.5h4M1074 154.5h4M1078 153.5h4M1082 152.5h5M1087 151.5h6M1093 150.5h6M1099 149.5h6M1105 148.5h6M1111 147.5h6M1117 146.5h6M1123 145.5h6M1129 144.5h6M1135 143.5h4M1139 142.5h4M1143 141.5h5M1148 140.5h4M1152 139.5h4M1156 138.5h5M1161 137.5h4M1165 136.5h5M1170 135.5h4M1174 134.5h4M1178 133.5h5M1183 132.5h5M1188 131.5h5M1193 130.5h5M1198 129.5h4M1202 128.5h5M1207 127.5h5M1212 126.5h5M1217 125.5h5M1222 124.5h5M1227 123.5h4M1231 122.5h5M1236 121.5h5M1241 120.5h4M1245 119.5h5M1250 118.5h4M1254 117.5h5M1259 116.5h5M1264 115.5h4M1268 114.5h5M1273 113.5h6M1279 112.5h6M1285 111.5h6M1291 110.5h6M1297 109.5h7M1304 108.5h7M1311 107.5h7M1318 106.5h7M1325 105.5h7M1332 104.5h4" fill="none" stroke="#ff00ff" stroke-width="1" shape-rendering="crispEdges"/>
<path d="M7 125.5h1M8 124.5h2M10 123.5h2M12 122.5h2M14 121.5h2M16 120.5h2M18 119.5h2M20 118.5h2M22 117.5h2M24 116.5h3M27 115.5h2M29 114.5h2M31 113.5h2M33 112.5h2M35 111.5h2M37 110.5h2M39 109.5h2M41 108.5h2M43 107.5h2M45 106.5h1M46 105.5h2M48 104.5h2M50 103.5h2M52 102.5h2M54 101.5h1M55 100.5h2M57 99.5h2M59 98.5h2M61 97.5h2M63 96.5h2M65 95.5h2M67 94.5h2M69 93.5h2M71 92.5h3M74 91.5h6M80 90.5h6M86 89.5h5M91 88.5h5M96 87.5h4M100 86.5h5M105 85.5h5M110 84.5h5M115 83.5h4M119 82.5h5M124 81.5h4M128 80.5h4M132 79.5h3M135 78.5h4M139 77.5h24M163 78.5h15M178 79.5h2M180 80.5h2M182 81.5h4M186 82.5h5M191 83.5h4M195 84.5h5M200 85.5h4M204 86.5h2M206 87.5h3M209 88.5h3M212 89.5h2M214 90.5h2M216 91.5h3M219 92.5h2M221 93.5h4M225 94.5h4M229 95.5h4M233 96.5h9M242 97.5h25M267 98.5h8M275 99.5h3M278 100.5h4M282 101.5h3M285 102.5h3M288 103.5h4M292 104.5h4M296 105.5h4M300 106.5h3M303 107.5h1M304 108.5h2M306 109.5h1M307 110.5h1M308 111.5h2M310 112.5h1M311 113.5h1M312 114.5h1M313 115.5h2M315 116.5h1M316 117.5h1M317 118.5h2M319 119.5h1M320 120.5h1M321.5 121v2M322.5 123v2M323.5 125v2M324.5 127v2M325.5 129v2M326.5 131v2M327.5 133v2M328 135.5h1M329.5 136v2M330 138.5h1M331.5 139v2M332 141.5h1M333.5 142v2M334 144.5h1M335.5 145v2M336 147.5h1M337 148.5h1M338 149.5h1M339 150.5h1M340 151.5h1M341 152.5h1M342 153.5h1M343.5 154v2M344 156.5h1M345 157.5h1M346 158.5h1M347 159.5h1M348 160.5h1M349 161.5h1M350.5 162v2M351.5 164v2M352 166.5h1M353.5 167v2M354.5 169v2M355 171.5h1M356.5 172v2M357.5 174v2M358 176.5h1M359.5 177v2M360 179.5h1M361.5 180v2M362 182.5h1M363.5 183v2M364 185.5h1M365.5 186v2M366 188.5h1M367.5 189v2M368 191.5h1M369.5 192v2M370 194.5h1M371.5 195v2M372 197.5h1M373.5 198v2M374 200.5h1M375.5 201v2M376 203.5h1M377.5 204v2M378 206.5h1M379.5 207v2M380 209.5h1M381.5 210v2M382 212.5h1M383.5 213v2M384 215.5h1M385.5 216v2M386 218.5h1M387.5 219v2M388 221.5h1M389.5 222v2M390 224.5h1M391.5 225v2M392 227.5h1M393.5 228v2M394 230.5h1M395.5 231v2M396 233.5h1M397.5 234v2M398 236.5h1M399.5 237v2M400 239.5h1M401 240.5h1M402.5 241v2M403 243.5h1M404.5 244v2M405 246.5h1M406.5 247v2M407.5 249v2M408 251.5h1M409.5 252v2M410.5 254v2M411.5 256v2M412 258.5h1M413.5 259v2M414.5 261v2M415 263.5h1M416.5 264v2M417.5 266v2M418.5 268v2M419 270.5h1M420.5 271v2M421.5 273v2M422 275.5h1M423 276.5h1M424 277.5h1M425.5 278v2M426 280.5h1M427 281.5h1M428 282.5h1M429 283.5h1M430 284.5h1M431 285.5h1M432.5 286v2M433 288.5h1M434 289.5h1M435 290.5h1M436 291.5h1M437.5 292v2M438 294.5h1M439 295.5h1M440.5 296v2M441 298.5h1M442 299.5h1M443.5 300v2M444 302.5h1M445 303.5h1M446.5 304v2M447 306.5h1M448 307.5h1M449 308.5h1M450 309.5h1M451 310.5h1M452 311.5h1M453 312.5h1M454.5 313v2M455 315.5h1M456 316.5h1M457 317.5h1M458 318.5h1M459 319.5h1M460 320.5h1M461 321.5h1M462 322.5h2M464 323.5h1M465 324.5h1M466 325.5h1M467 326.5h1M468 327.5h2M470 328.5h1M471 329.5h2M473 330.5h4M477 331.5h5M482 332.5h6M488 331.5h2M490 330.5h2M492 329.5h2M494 328.5h2M496 327.5h2M498 326.5h4M502 325.5h8M510 324.5h5M515 323.5h2M517 322.5h3M520 321.5h3M523 320.5h2M525 319.5h3M528 318.5h2M530 317.5h2M532 316.5h2M534 315.5h2M536 314.5h2M538 313.5h2M540 312.5h2M542 311.5h2M544 310.5h1M545 309.5h1M546 308.5h2M548 307.5h1M549 306.5h1M550 305.5h2M552 304.5h1M553 303.5h1M554 302.5h1M555 301.5h2M557 300.5h1M558 299.5h1M559 298.5h2M561 297.5h1M562 296.5h1M563 295.5h1M564 294.5h1M565 293.5h1M566 292.5h1M567 291.5h2M569 290.5h1M570 289.5h1M571 288.5h1M572 287.5h1M573 286.5h1M574 285.5h1M575 284.5h1M576 283.5h1M577 282.5h1M578 281.5h2M580 280.5h1M581 279.5h1M582 278.5h1M583 277.5h1M584 276.5h1M585 275.5h1M586 274.5h1M587 273.5h1M588 272.5h1M589 271.5h1M590 270.5h1M591 269.5h1M592 268.5h1M593 267.5h1M594 266.5h1M595 265.5h2M597 264.5h1M598 263.5h1M599 262.5h1M600 261.5h1M601 260.5h1M602 259.5h1M603 258.5h1M604 257.5h1M605 256.5h1M606 255.5h1M607 254.5h1M608 253.5h1M609 252.5h2M611 251.5h1M612 250.5h1M613 249.5h1M614 248.5h2M616 247.5h1M617 246.5h1M618 245.5h1M619 244.5h1M620 243.5h2M622 242.5h1M623 241.5h1M624 240.5h1M625 239.5h2M627 238.5h1M628 237.5h1M629 236.5h2M631 235.5h2M633 234.5h1M634 233.5h2M636 232.5h2M638 231.5h1M639 230.5h2M641 229.5h2M643 228.5h1M644 227.5h2M646 226.5h2M648 225.5h1M649 224.5h2M651 223.5h1M652 222.5h1M653 221.5h2M655 220.5h1M656 219.5h2M658 218.5h1M659 217.5h2M661 216.5h1M662 215.5h1M663 214.5h2M665 213.5h1M666 212.5h2M668 211.5h1M669 210.5h2M671 209.5h1M672 208.5h1M673 207.5h2M675 206.5h1M676 205.5h2M678 204.5h1M679 203.5h2M681 202.5h1M682 201.5h1M683 200.5h2M685 199.5h1M686 198.5h2M688 197.5h1M689 196.5h2M691 195.5h2M693 194.5h2M695 193.5h2M697 192.5h2M699 191.5h2M701 190.5h2M703 189.5h2M705 188.5h2M707 187.5h2M709 186.5h2M711 185.5h7M718 184.5h17M735 183.5h8M743 182.5h6M749 181.5h4M753 180.5h20M773 181.5h21M794 182.5h4M798 183.5h4M802 184.5h4M806 185.5h8M814 184.5h11M825 183.5h8M833 182.5h5M838 181.5h3M841 180.5h3M844 179.5h3M847 178.5h3M850 177.5h3M853 176.5h3M856 175.5h3M859 174.5h3M862 173.5h3M865 172.5h3M868 171.5h4M872 170.5h4M876 169.5h4M880 168.5h2M882 167.5h2M884 166.5h2M886 165.5h2M888 164.5h2M890 163.5h2M892 162.5h2M894 161.5h3M897 160.5h4M901 159.5h4M905 158.5h4M909 157.5h4M913 156.5h4M917 155.5h4M921 154.5h4M925 153.5h4M929 152.5h5M934 151.5h24M958 150.5h6M964 149.5h7M971 148.5h6M977 147.5h12M989 146.5h30M1019 147.5h7M1026 146.5h4M1030 145.5h5M1035 144.5h4M1039 143.5h5M1044 142.5h4M1048 141.5h5M1053 140.5h4M1057 139.5h4M1061 138.5h4M1065 137.5h4M1069 136.5h4M1073 135.5h3M1076 134.5h3M1079 133.5h4M1083 132.5h3M1086 131.5h2M1088 130.5h2M1090 129.5h2M1092 128.5h3M1095 127.5h2M1097 126.5h2M1099 125.5h2M1101 124.5h3M1104 123.5h2M1106 122.5h3M1109 121.5h2M1111 120.5h2M1113 119.5h3M1116 118.5h2M1118 117.5h3M1121 116.5h2M1123 115.5h3M1126 114.5h2M1128 113.5h3M1131 112.5h3M1134 111.5h2M1136 110.5h2M1138 109.5h2M1140 108.5h2M1142 107.5h2M1144 106.5h2M1146 105.5h2M1148 104.5h3M1151 103.5h3M1154 102.5h4M1158 101.5h3M1161 100.5h3M1164 99.5h2M1166 98.5h3M1169 97.5h3M1172 96.5h2M1174 95.5h3M1177 94.5h2M1179 93.5h3M1182 92.5h2M1184 91.5h27M1211 92.5h12M1223 93.5h5M1228 94.5h5M1233 95.5h24M1257 94.5h11M1268 93.5h2M1270 92.5h2M1272 91.5h3M1275 90.5h3M1278 89.5h3M1281 88.5h2M1283 87.5h3M1286 86.5h3M1289 85.5h3M1292 84.5h4M1296 83.5h5M1301 82.5h5M1306 81.5h5M1311 80.5h6M1317 79.5h7M1324 78.5h8M1332 77.5h4" fill="none" stroke="#ffa500" stroke-width="1" shape-rendering="crispEdges"/>
<path d="M7 581.5h2M9 580.5h1M13 579.5h1M14 578.5h2M19 576.5h3M25 574.5h1M26 573.5h2M31 571.5h1M32 570.5h2M37 568.5h1M38 567.5h2M43 564.5h2M45 563.5h1M49 561.5h1M50 560.5h2M55 558.5h1M56 557.5h2M61 554.5h2M63 553.5h1M67 551.5h3M73 550.5h2M75 549.5h1M79 549.5h3M85 548.5h3M91 549.5h3M97 550.5h3M103 551.5h2M105 552.5h1M109 553.5h3M115 555.5h3M121 557.5h2M123 558.5h1M127 559.5h2M129 560.5h1M133 561.5h1M134 562.5h2M139 564.5h3M145 566.5h2M147 567.5h1M151 568.5h2M153 569.5h1M157 570.5h1M158 571.5h2M163 572.5h2M165 573.5h1M169 574.5h3M175 575.5h3M181 576.5h3M187 577.5h3M193 577.5h2M195 578.5h1M199 578.5h3M205 578.5h3M211 578.5h3M217 578.5h3M223 578.5h3M229 578.5h3M235 578.5h3M241 578.5h3M247 578.5h3M253 578.5h3M259 578.5h3M265 578.5h2M267 579.5h1M271 579.5h3M277 579.5h3M283 581.5h3M289 582.5h2M291 583.5h1M295 583.5h3M301 584.5h3M307 586.5h3M313 588.5h1M314 589.5h1M315 590.5h1M319 592.5h1M320 593.5h1M321 594.5h1M325 597.5h1M326 598.5h1M327 599.5h1M331.5 603v2M332 605.5h1M336 609.5h1M337 610.5h1M338 611.5h1M341 615.5h1M342 616.5h1M343 617.5h1M347.5 621v2M348 623.5h1M352 627.5h1M353 628.5h1M354 629.5h1M357 633.5h1M358 634.5h1M359 635.5h1M362 639.5h1M363 640.5h1M364 641.5h1M367 645.5h1M368 646.5h1M369 647.5h1M372 651.5h1M373 652.5h1M374 653.5h1M378 657.5h1M379.5 658v2M383 663.5h1M384 664.5h1M385 665.5h1M389 668.5h1M390 669.5h1M391 670.5h1M395 672.5h1M396 673.5h2M401 674.5h2M403 675.5h1M407 675.5h3M413 676.5h3M419 677.5h3M425 676.5h3M431 675.5h3M437 674.5h3M443 672.5h3M449 670.5h1M450 669.5h2M455 667.5h1M456 666.5h2M461 663.5h2M463 662.5h1M467 659.5h1M468 658.5h1M469 657.5h1M473 654.5h2M475 653.5h1M479 650.5h1M480 649.5h1M481 648.5h1M485 645.5h1M486 644.5h1M487 643.5h1M491 640.5h1M492 639.5h1M493 638.5h1M497 635.5h1M498 634.5h1M499 633.5h1M503 630.5h1M504 629.5h1M505 628.5h1M509 624.5h1M510 623.5h1M511 622.5h1M515 619.5h1M516 618.5h1M517 617.5h1M521 614.5h2M523 613.5h1M527 610.5h1M528 609.5h2M533 606.5h2M535 605.5h1M539 602.5h2M541 601.5h1M545 599.5h1M546 598.5h1M547 597.5h1M551 595.5h1M552 594.5h2M557 591.5h2M559 590.5h1M563 587.5h1M564 586.5h1M565 585.5h1M569 583.5h1M570 582.5h1M571 581.5h1M575 579.5h1M576 578.5h1M577 577.5h1M581 574.5h2M583 573.5h1M587 571.5h1M588 570.5h2M593 568.5h1M594 567.5h2M599 565.5h1M600 564.5h2M605 561.5h2M607 560.5h1M611 557.5h1M612 556.5h1M613 555.5h1M617 553.5h1M618 552.5h2M623 550.5h2M625 549.5h1M629 548.5h1M630 547.5h2M635 545.5h3M641 543.5h3M647 542.5h2M649 541.5h1M653 540.5h3M659 539.5h2M661 538.5h1M665 538.5h2M667 537.5h1M671 537.5h3M677 537.5h3M683 537.5h3M689 537.5h3M695 538.5h3M701 539.5h3M707 540.5h3M713 541.5h3M719 542.5h2M721 543.5h1M725 544.5h3M731 545.5h2M733 546.5h1M737 547.5h3M743 548.5h2M745 549.5h1M749 550.5h1M750 551.5h2M755 552.5h2M757 553.5h1M761 554.5h3M767 555.5h2M769 556.5h1M773 557.5h1M774 558.5h2M779 559.5h3M785 559.5h2M787 560.5h1M791 560.5h2M793 561.5h1M797 562.5h3M803 563.5h2M805 564.5h1M809 564.5h2M811 565.5h1M815 565.5h3M821 566.5h3M827 566.5h3M833 566.5h3M839 566.5h3M845 565.5h3M851 564.5h2M853 563.5h1M857 562.5h3M863 561.5h2M865 560.5h1M869 559.5h3M875 557.5h3M881 555.5h3M887 554.5h2M889 553.5h1M893 552.5h3M899 551.5h2M901 550.5h1M905 550.5h2M907 549.5h1M911 549.5h3M917 549.5h3M923 550.5h3M929 550.5h2M931 551.5h1M935 551.5h2M937 552.5h1M941 553.5h3M947 554.5h3M953 555.5h1M954 556.5h2M959 558.5h2M961 559.5h1M965 560.5h3M971 562.5h1M972 563.5h2M977 565.5h2M979 566.5h1M983 567.5h2M985 568.5h1M989 569.5h1M990 570.5h2M995 571.5h3M1001 572.5h3M1007 573.5h3M1013 573.5h3M1019 574.5h3M1025 574.5h2M1027 573.5h1M1031 573.5h2M1033 572.5h1M1037 571.5h3M1043 569.5h1M1044 568.5h2M1049 566.5h2M1051 565.5h1M1055 564.5h2M1057 563.5h1M1061 562.5h3M1067 560.5h3M1073 558.5h1M1074 557.5h2M1079 555.5h2M1081 554.5h1M1085 553.5h3M1091 552.5h2M1093 551.5h1M1097 551.5h2M1099 550.5h1M1103 550.5h3M1109 549.5h3M1115 549.5h3M1121 549.5h3M1127 549.5h3M1133 550.5h3M1139 551.5h3M1145 551.5h2M1147 552.5h1M1151 552.5h3M1157 553.5h3M1163 554.5h3M1169 554.5h2M1171 555.5h1M1175 555.5h3M1181 556.5h3M1187 557.5h3M1193 557.5h2M1195 558.5h1M1199 558.5h3M1205 559.5h3M1211 560.5h3M1217 560.5h2M1219 561.5h1M1223 561.5h3M1229 562.5h2M1231 563.5h1M1235 563.5h2M1237 564.5h1M1241 564.5h2M1243 565.5h1M1247 565.5h3M1253 566.5h3M1259 567.5h3M1265 567.5h3M1271 567.5h3M1277 567.5h3M1283 566.5h3M1289 565.5h3M1295 564.5h3M1301 563.5h3M1307 562.5h3M1313 562.5h2M1315 561.5h1M1319 561.5h2M1321 560.5h1M1325 559.5h3M1331 558.5h2M1333 557.5h1" fill="none" stroke="#ff0000" stroke-width="1" shape-rendering="crispEdges"/>
<g shape-rendering="crispEdges">
<line x1="8" y1="730.5" x2="1686" y2="730.5" stroke="#c0c0c0" stroke-width="1" stroke-dasharray="3 3"/>
<line x1="8" y1="779.5" x2="1686" y2="779.5" stroke="#c0c0c0" stroke-width="1" stroke-dasharray="3 3"/>
</g>
<path d="M7 739.5h1M8 738.5h1M9 737.5h1M10 736.5h1M11 735.5h1M12 734.5h1M13 733.5h1M14 732.5h1M15 731.5h1M16 730.5h2M18 729.5h2M20 728.5h2M22 727.5h3M25 728.5h2M27 729.5h3M30 730.5h11M41 731.5h4M45 732.5h12M57 733.5h2M59 734.5h3M62 735.5h2M64 736.5h1M65 737.5h1M66 738.5h1M67 739.5h1M68 740.5h1M69 741.5h1M70 742.5h1M71 743.5h1M72.5 744v2M73.5 746v2M74.5 748v2M75.5 750v2M76.5 752v2M77.5 754v2M78.5 756v2M79 758.5h2M81 757.5h4M85 756.5h4M89 757.5h4M93 758.5h3M96 759.5h2M98 760.5h1M99 761.5h2M101 762.5h2M103 763.5h1M104 762.5h2M106 761.5h1M107 760.5h2M109 759.5h2M111 758.5h1M112 757.5h2M114 756.5h2M116 755.5h2M118 754.5h3M121 755.5h4M125 756.5h12M137 757.5h2M139 758.5h3M142 759.5h5M147 760.5h16M163 761.5h5M168 760.5h2M170 759.5h2M172 758.5h2M174 757.5h11M185 756.5h2M187 755.5h3M190 754.5h3M193 753.5h2M195 752.5h3M198 751.5h2M200 750.5h1M201 749.5h2M203 748.5h1M204 747.5h1M205 746.5h2M207 745.5h1M208.5 746v2M209.5 748v2M210 750.5h1M211.5 751v2M212 753.5h1M213.5 754v2M214.5 756v2M215 758.5h2M217 757.5h4M221 756.5h6M227 757.5h8M235 758.5h5M240 757.5h2M242 756.5h1M243 755.5h2M245 754.5h2M247 753.5h4M251 754.5h5M256.5 755v2M257.5 757v2M258.5 759v2M259.5 761v2M260.5 763v2M261.5 765v2M262.5 767v2M263 769.5h4M267 768.5h8M275 769.5h5M280 770.5h2M282 771.5h2M284 772.5h2M286 773.5h5M291 774.5h8M299 775.5h5M303 776.5h1M304.5 777v3M305.5 780v3M306.5 783v3M307.5 786v2M308.5 788v3M309.5 791v3M310.5 794v3M311.5 797v2M312 798.5h1M313 797.5h2M315 796.5h3M318 795.5h2M320 796.5h1M321 797.5h1M322 798.5h1M323.5 799v2M324 801.5h1M325 802.5h1M326 803.5h1M327.5 803v2M328.5 801v2M329.5 798v3M330.5 796v2M331.5 793v3M332.5 791v2M333.5 788v3M334.5 786v2M335.5 784v2M336 783.5h1M337 782.5h1M338 781.5h1M339 780.5h2M341 779.5h1M342 778.5h1M343 777.5h2M345 778.5h4M349 779.5h3M352 780.5h2M354 781.5h2M356 782.5h2M358 783.5h11M369 782.5h4M373 781.5h3M376 780.5h2M378 779.5h1M379 778.5h2M381 777.5h2M383 776.5h4M387 777.5h8M395 778.5h16M411 779.5h8M419 780.5h5M424 779.5h1M425 778.5h1M426 777.5h1M427 776.5h2M429 775.5h1M430 774.5h1M431 773.5h4M435 774.5h5M440 773.5h2M442 772.5h1M443 771.5h2M445 770.5h2M447 769.5h1M448.5 767v2M449 766.5h1M450.5 764v2M451 763.5h1M452.5 761v2M453 760.5h1M454.5 758v2M455 757.5h2M457 756.5h4M461 755.5h6M467 756.5h8M475 757.5h5M480 756.5h2M482 755.5h1M483 754.5h2M485 753.5h2M487 752.5h1M488 753.5h1M489 754.5h2M491 755.5h1M492 756.5h1M493 757.5h2M495 758.5h2M497 757.5h4M501 756.5h4M505 755.5h4M509 754.5h6M515 755.5h6M521 754.5h4M525 753.5h4M529 752.5h2M531 751.5h3M534 750.5h5M539 749.5h5M544.5 747v2M545.5 745v2M546.5 743v2M547 742.5h1M548.5 740v2M549.5 738v2M550.5 736v2M551 735.5h12M563 734.5h6M569 735.5h4M573 736.5h4M577 737.5h2M579 738.5h3M582 739.5h2M584 740.5h2M586 741.5h2M588 742.5h2M590 743.5h2M592.5 741v2M593 740.5h1M594 739.5h1M595.5 737v2M596 736.5h1M597 735.5h1M598.5 733v2M599 732.5h4M603 731.5h14M617 732.5h2M619 733.5h3M622 734.5h2M624 733.5h2M626 732.5h1M627 731.5h2M629 730.5h2M631 729.5h2M633 730.5h2M635 731.5h3M638 732.5h2M640.5 733v2M641 735.5h1M642 736.5h1M643.5 737v2M644 739.5h1M645 740.5h1M646.5 741v2M647 743.5h2M649 742.5h4M653 741.5h6M659 740.5h6M665 739.5h2M667 738.5h3M670 737.5h10M680 738.5h2M682 739.5h2M684 740.5h2M686 741.5h2M688 742.5h1M689 743.5h2M691 744.5h1M692 745.5h1M693 746.5h2M695 747.5h2M697 746.5h2M699 745.5h3M702 744.5h5M707 743.5h5M712 744.5h1M713.5 745v2M714 747.5h1M715 748.5h1M716 749.5h1M717.5 750v2M718 752.5h1M719 753.5h2M721 752.5h4M725 751.5h3M728 750.5h1M729 749.5h2M731 748.5h1M732 747.5h1M733 746.5h2M735 745.5h1M736 746.5h2M738 747.5h1M739 748.5h2M741 749.5h2M743 750.5h2M745 751.5h2M747 752.5h3M750 753.5h3M753 754.5h2M755 755.5h3M758 756.5h2M760 755.5h1M761 754.5h1M762 753.5h1M763 752.5h1M764 751.5h1M765 750.5h1M766 749.5h1M767 748.5h12M779 749.5h14M793 750.5h2M795 751.5h3M798 752.5h2M800 753.5h1M801 754.5h2M803 755.5h1M804 756.5h1M805 757.5h2M807 758.5h1M808.5 756v2M809 755.5h1M810 754.5h1M811.5 752v2M812 751.5h1M813 750.5h1M814.5 748v2M815 747.5h2M817 748.5h2M819 749.5h3M822 750.5h2M824 749.5h1M825 748.5h1M826 747.5h1M827 746.5h2M829 745.5h1M830 744.5h1M831 743.5h1M832.5 741v2M833 740.5h1M834.5 738v2M835 737.5h1M836.5 735v2M837 734.5h1M838.5 732v2M839 731.5h2M841 732.5h4M845 733.5h6M851 732.5h5M856 733.5h1M857 734.5h2M859 735.5h1M860 736.5h1M861 737.5h2M863 738.5h4M867 737.5h6M873 736.5h4M877 735.5h4M881 734.5h4M885 733.5h3M888 734.5h2M890 735.5h1M891 736.5h2M893 737.5h2M895 738.5h2M897 739.5h2M899 740.5h3M902 741.5h2M904.5 742v2M905 744.5h1M906 745.5h1M907.5 746v2M908 748.5h1M909 749.5h1M910.5 750v2M911 752.5h12M923 753.5h5M928 754.5h1M929 755.5h1M930 756.5h1M931 757.5h2M933 758.5h1M934 759.5h1M935 760.5h2M937 759.5h2M939 758.5h3M942 757.5h5M947 756.5h5M952 757.5h2M954 758.5h1M955 759.5h2M957 760.5h2M959 761.5h4M963 762.5h6M969 761.5h4M973 760.5h3M976 759.5h1M977 758.5h1M978 757.5h1M979 756.5h1M980 755.5h1M981 754.5h1M982 753.5h1M983 752.5h4M987 753.5h8M995 752.5h5M1000 751.5h1M1001 750.5h1M1002 749.5h1M1003 748.5h1M1004 747.5h1M1005 746.5h1M1006 745.5h1M1007 744.5h1M1008 743.5h2M1010 742.5h2M1012 741.5h2M1014 740.5h2M1016 741.5h1M1017 742.5h1M1018 743.5h1M1019.5 744v2M1020 746.5h1M1021 747.5h1M1022 748.5h1M1023.5 748v2M1024.5 746v2M1025.5 744v2M1026.5 742v2M1027.5 740v2M1028.5 738v2M1029.5 736v2M1030.5 734v2M1031.5 732v2M1032 732.5h1M1033 731.5h2M1035 730.5h3M1038 729.5h10M1048 730.5h2M1050 731.5h1M1051 732.5h2M1053 733.5h2M1055 734.5h10M1065 733.5h4M1069 732.5h3M1072.5 733v2M1073 735.5h1M1074.5 736v2M1075 738.5h1M1076.5 739v2M1077 741.5h1M1078.5 742v2M1079 744.5h17M1096 743.5h1M1097 742.5h2M1099 741.5h1M1100 740.5h1M1101 739.5h2M1103 738.5h4M1107 739.5h5M1112 740.5h2M1114 741.5h2M1116 742.5h2M1118 743.5h2M1120 744.5h1M1121 745.5h1M1122 746.5h1M1123 747.5h1M1124 748.5h1M1125 749.5h1M1126 750.5h1M1127 751.5h1M1128 750.5h1M1129 749.5h1M1130 748.5h1M1131 747.5h1M1132 746.5h1M1133 745.5h1M1134 744.5h1M1135 743.5h12M1147 742.5h5M1152 743.5h1M1153 744.5h1M1154 745.5h1M1155 746.5h2M1157 747.5h1M1158 748.5h1M1159 749.5h2M1161 748.5h4M1165 747.5h4M1169 746.5h2M1171 745.5h3M1174 744.5h5M1179 745.5h6M1185 746.5h2M1187 747.5h3M1190 748.5h2M1192 749.5h2M1194 750.5h2M1196 751.5h2M1198 752.5h2M1200 751.5h1M1201 750.5h2M1203 749.5h1M1204 748.5h1M1205 747.5h2M1207 746.5h4M1211 745.5h5M1216.5 746v2M1217 748.5h1M1218 749.5h1M1219.5 750v2M1220 752.5h1M1221 753.5h1M1222.5 754v2M1223 756.5h4M1227 755.5h8M1235 756.5h5M1240 755.5h1M1241 754.5h2M1243 753.5h1M1244 752.5h1M1245 751.5h2M1247 750.5h2M1249 751.5h2M1251 752.5h3M1254 753.5h2M1256 752.5h1M1257 751.5h2M1259 750.5h1M1260 749.5h1M1261 748.5h2M1263 747.5h1M1264.5 745v2M1265.5 743v2M1266.5 741v2M1267.5 739v2M1268.5 737v2M1269.5 735v2M1270.5 733v2M1271.5 731v2M1272 731.5h3M1275 730.5h5M1280 731.5h2M1282 732.5h2M1284 733.5h2M1286 734.5h2M1288 735.5h2M1290 736.5h1M1291 737.5h2M1293 738.5h2M1295 739.5h4M1299 738.5h5M1304 739.5h2M1306 740.5h2M1308 741.5h2M1310 742.5h2M1312 743.5h2M1314 744.5h2M1316 745.5h2M1318 746.5h3M1321 745.5h4M1325 744.5h4M1329 745.5h4M1333 746.5h3" fill="none" stroke="#1e90ff" stroke-width="1" shape-rendering="crispEdges"/>
<g shape-rendering="crispEdges">
<rect x="7" y="38" width="1681" height="2" fill="#28c428"/>
<rect x="7" y="134" width="1681" height="2" fill="#4068e0"/>
<rect x="7" y="245" width="1681" height="2" fill="#4068e0"/>
<polygon points="1344.5,2 1354.5,2 1349.5,7.5" fill="#708090" shape-rendering="auto"/>
<rect x="1688" y="24" width="2" height="1" fill="#000"/>
<rect x="1688" y="57" width="2" height="1" fill="#000"/>
<rect x="1688" y="90" width="2" height="1" fill="#000"/>
<rect x="1688" y="123" width="2" height="1" fill="#000"/>
<rect x="1688" y="156" width="2" height="1" fill="#000"/>
<rect x="1688" y="189" width="2" height="1" fill="#000"/>
<rect x="1688" y="222" width="2" height="1" fill="#000"/>
<rect x="1688" y="255" width="2" height="1" fill="#000"/>
<rect x="1688" y="288" width="2" height="1" fill="#000"/>
<rect x="1688" y="321" width="2" height="1" fill="#000"/>
<rect x="1688" y="354" width="2" height="1" fill="#000"/>
<rect x="1688" y="387" width="2" height="1" fill="#000"/>
<rect x="1688" y="420" width="2" height="1" fill="#000"/>
<rect x="1688" y="453" width="2" height="1" fill="#000"/>
<rect x="1688" y="486" width="2" height="1" fill="#000"/>
<rect x="1688" y="519" width="2" height="1" fill="#000"/>
<rect x="1688" y="577" width="2" height="1" fill="#000"/>
<rect x="1688" y="526" width="1" height="1" fill="#000"/>
<rect x="1688" y="689" width="1" height="1" fill="#000"/>
<rect x="1688" y="694" width="1" height="1" fill="#000"/>
<rect x="1688" y="815" width="1" height="1" fill="#000"/>
<rect x="7" y="817" width="1" height="3" fill="#000"/>
<rect x="71" y="817" width="1" height="3" fill="#000"/>
<rect x="135" y="817" width="1" height="3" fill="#000"/>
<rect x="199" y="817" width="1" height="3" fill="#000"/>
<rect x="263" y="817" width="1" height="3" fill="#000"/>
<rect x="327" y="817" width="1" height="3" fill="#000"/>
<rect x="391" y="817" width="1" height="3" fill="#000"/>
<rect x="455" y="817" width="1" height="3" fill="#000"/>
<rect x="519" y="817" width="1" height="3" fill="#000"/>
<rect x="583" y="817" width="1" height="3" fill="#000"/>
<rect x="647" y="817" width="1" height="3" fill="#000"/>
<rect x="711" y="817" width="1" height="3" fill="#000"/>
<rect x="775" y="817" width="1" height="3" fill="#000"/>
<rect x="839" y="817" width="1" height="3" fill="#000"/>
<rect x="903" y="817" width="1" height="3" fill="#000"/>
<rect x="967" y="817" width="1" height="3" fill="#000"/>
<rect x="1031" y="817" width="1" height="3" fill="#000"/>
<rect x="1095" y="817" width="1" height="3" fill="#000"/>
<rect x="1159" y="817" width="1" height="3" fill="#000"/>
<rect x="1223" y="817" width="1" height="3" fill="#000"/>
<rect x="1287" y="817" width="1" height="3" fill="#000"/>
</g>
<text class="t" x="1693.2" y="27.9" textLength="32.8" lengthAdjust="spacingAndGlyphs">1834.70</text>
<text class="t" x="1693.2" y="60.9" textLength="32.8" lengthAdjust="spacingAndGlyphs">1824.50</text>
<text class="t" x="1693.2" y="93.9" textLength="32.8" lengthAdjust="spacingAndGlyphs">1814.00</text>
<text class="t" x="1693.2" y="126.9" textLength="32.8" lengthAdjust="spacingAndGlyphs">1803.50</text>
<text class="t" x="1693.2" y="159.9" textLength="32.8" lengthAdjust="spacingAndGlyphs">1793.30</text>
<text class="t" x="1693.2" y="192.9" textLength="32.8" lengthAdjust="spacingAndGlyphs">1782.80</text>
<text class="t" x="1693.2" y="225.9" textLength="32.8" lengthAdjust="spacingAndGlyphs">1772.60</text>
<text class="t" x="1693.2" y="258.9" textLength="32.8" lengthAdjust="spacingAndGlyphs">1762.10</text>
<text class="t" x="1693.2" y="291.9" textLength="32.8" lengthAdjust="spacingAndGlyphs">1751.90</text>
<text class="t" x="1693.2" y="324.9" textLength="32.8" lengthAdjust="spacingAndGlyphs">1741.40</text>
<text class="t" x="1693.2" y="357.9" textLength="32.8" lengthAdjust="spacingAndGlyphs">1730.90</text>
<text class="t" x="1693.2" y="390.9" textLength="32.8" lengthAdjust="spacingAndGlyphs">1720.70</text>
<text class="t" x="1693.2" y="423.9" textLength="32.8" lengthAdjust="spacingAndGlyphs">1710.20</text>
<text class="t" x="1693.2" y="456.9" textLength="32.8" lengthAdjust="spacingAndGlyphs">1700.00</text>
<text class="t" x="1693.2" y="489.9" textLength="32.8" lengthAdjust="spacingAndGlyphs">1689.50</text>
<text class="t" x="1693.2" y="522.9" textLength="32.8" lengthAdjust="spacingAndGlyphs">1679.30</text>
<g shape-rendering="crispEdges">
<rect x="1689" y="33" width="41" height="11" fill="#28c428"/>
<rect x="1689" y="59" width="41" height="11" fill="#000"/>
<rect x="1689" y="129" width="41" height="11" fill="#4068e0"/>
<rect x="1689" y="240" width="41" height="11" fill="#4068e0"/>
</g>
<text class="t w" x="1693.2" y="42.0" textLength="32.8" lengthAdjust="spacingAndGlyphs">1830.00</text>
<text class="t w" x="1693.2" y="68.0" textLength="32.8" lengthAdjust="spacingAndGlyphs">1822.31</text>
<text class="t w" x="1693.2" y="138.0" textLength="32.8" lengthAdjust="spacingAndGlyphs">1800.00</text>
<text class="t w" x="1693.2" y="249.0" textLength="32.8" lengthAdjust="spacingAndGlyphs">1765.00</text>
<text class="t" x="1691.1" y="535.0" textLength="27.2" lengthAdjust="spacingAndGlyphs">10.648</text>
<text class="t" x="1691.2" y="581.0" textLength="18.2" lengthAdjust="spacingAndGlyphs">0.00</text>
<text class="t" x="1690.8" y="686.7" textLength="30.8" lengthAdjust="spacingAndGlyphs">-23.017</text>
<text class="t" x="1690.8" y="703.0" textLength="15.4" lengthAdjust="spacingAndGlyphs">100</text>
<text class="t" x="1690.3" y="734.0" textLength="10.2" lengthAdjust="spacingAndGlyphs">70</text>
<text class="t" x="1690.3" y="783.0" textLength="10.2" lengthAdjust="spacingAndGlyphs">30</text>
<text class="t" x="1690.9" y="813.0" textLength="5.4" lengthAdjust="spacingAndGlyphs">0</text>
<polygon points="9.7,7.9 17.3,7.9 13.5,12.4" fill="#000"/>
<text class="t" x="21.8" y="12.9" textLength="56.4" lengthAdjust="spacingAndGlyphs">XAUUSD-,H4</text>
<text class="t" x="85.3" y="12.9" textLength="140.1" lengthAdjust="spacingAndGlyphs">1822.92 1823.85 1821.75 1822.31</text>
<text class="t" x="11" y="536.6" textLength="118" lengthAdjust="spacingAndGlyphs">MACD(12,26,9) 3.856 4.089</text>
<text class="t" x="11" y="704.8" textLength="67.7" lengthAdjust="spacingAndGlyphs">RSI(14) 57.1276</text>
<text class="t" x="5.6" y="829.0" textLength="47.8" lengthAdjust="spacingAndGlyphs">29 Jul 2021</text>
<text class="t" x="69.6" y="829.0" textLength="51.2" lengthAdjust="spacingAndGlyphs">30 Jul 12:00</text>
<text class="t" x="133.6" y="829.0" textLength="51.4" lengthAdjust="spacingAndGlyphs">2 Aug 20:00</text>
<text class="t" x="197.6" y="829.0" textLength="51.4" lengthAdjust="spacingAndGlyphs">4 Aug 04:00</text>
<text class="t" x="261.6" y="829.0" textLength="51.4" lengthAdjust="spacingAndGlyphs">5 Aug 12:00</text>
<text class="t" x="325.6" y="829.0" textLength="51.4" lengthAdjust="spacingAndGlyphs">8 Aug 23:00</text>
<text class="t" x="389.6" y="829.0" textLength="56.1" lengthAdjust="spacingAndGlyphs">10 Aug 04:00</text>
<text class="t" x="453.6" y="829.0" textLength="56.1" lengthAdjust="spacingAndGlyphs">11 Aug 12:00</text>
<text class="t" x="517.6" y="829.0" textLength="56.1" lengthAdjust="spacingAndGlyphs">12 Aug 20:00</text>
<text class="t" x="581.6" y="829.0" textLength="56.1" lengthAdjust="spacingAndGlyphs">16 Aug 04:00</text>
<text class="t" x="645.6" y="829.0" textLength="56.1" lengthAdjust="spacingAndGlyphs">17 Aug 12:00</text>
<text class="t" x="709.6" y="829.0" textLength="56.1" lengthAdjust="spacingAndGlyphs">18 Aug 20:00</text>
<text class="t" x="773.6" y="829.0" textLength="56.1" lengthAdjust="spacingAndGlyphs">20 Aug 04:00</text>
<text class="t" x="837.6" y="829.0" textLength="56.1" lengthAdjust="spacingAndGlyphs">23 Aug 12:00</text>
<text class="t" x="901.6" y="829.0" textLength="56.1" lengthAdjust="spacingAndGlyphs">24 Aug 20:00</text>
<text class="t" x="965.6" y="829.0" textLength="56.1" lengthAdjust="spacingAndGlyphs">26 Aug 04:00</text>
<text class="t" x="1029.6" y="829.0" textLength="56.1" lengthAdjust="spacingAndGlyphs">27 Aug 12:00</text>
<text class="t" x="1093.6" y="829.0" textLength="56.1" lengthAdjust="spacingAndGlyphs">30 Aug 20:00</text>
<text class="t" x="1157.6" y="829.0" textLength="50.2" lengthAdjust="spacingAndGlyphs">1 Sep 04:00</text>
<text class="t" x="1221.6" y="829.0" textLength="50.2" lengthAdjust="spacingAndGlyphs">2 Sep 12:00</text>
<text class="t" x="1285.6" y="829.0" textLength="50.2" lengthAdjust="spacingAndGlyphs">5 Sep 23:00</text>
<text class="note" x="1029.2" y="355.9" style="font-size:36.6px">多空转折点<tspan dx="-0.4" dy="-1.4" style="font-size:39px" textLength="83.6" lengthAdjust="spacingAndGlyphs">1830</tspan></text>
</svg></body></html>
